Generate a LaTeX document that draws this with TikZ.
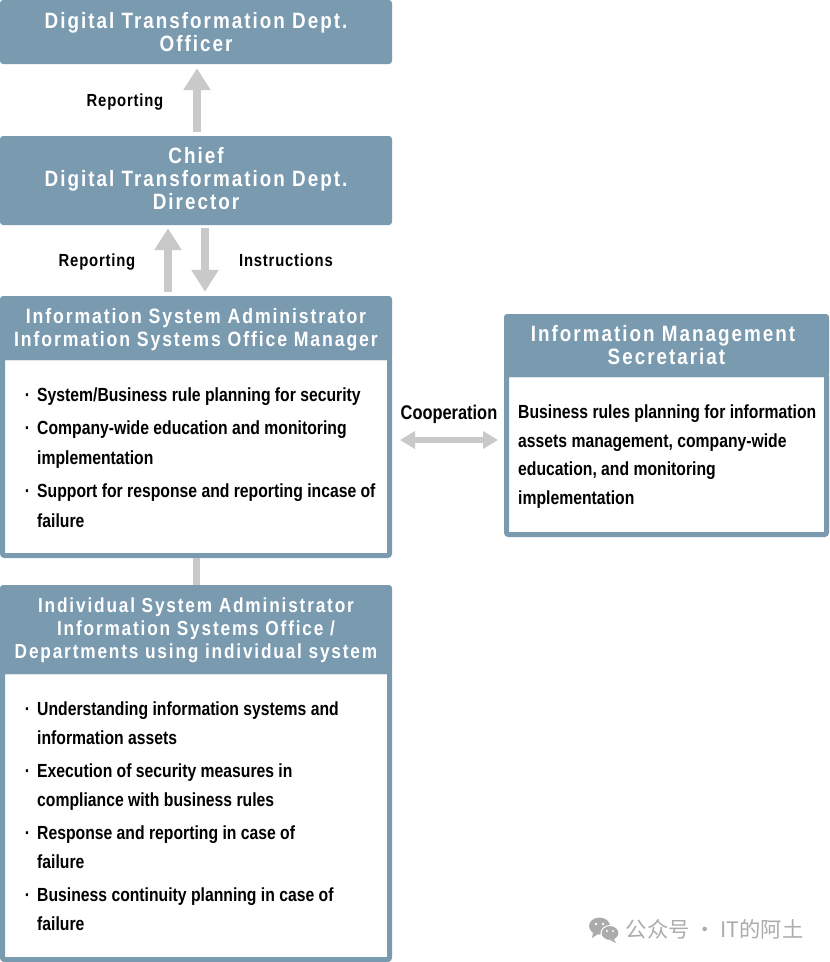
\documentclass[tikz,border=0pt]{standalone}
\usepackage{fontspec}
\setmainfont{Liberation Sans}
\newfontfamily\headfont[FakeStretch=0.85,LetterSpace=9]{Liberation Sans}
\newfontfamily\bodyfont[FakeStretch=0.828]{Liberation Sans}
\newfontfamily\captionfont[FakeStretch=0.85,LetterSpace=4.5]{Liberation Sans}
\newfontfamily\cjkfont{Noto Sans CJK SC}
\usetikzlibrary{calc,arrows.meta}
\definecolor{headblue}{HTML}{7A9AB0}
\definecolor{arrowgray}{HTML}{C9C9C9}
\definecolor{markgray}{HTML}{ABABAB}
\newcommand{\itemdot}{\llap{\textbf{·}\hspace{7pt}}}
\newcommand{\headdown}[1]{\rule{0pt}{#1}}
\newcommand{\headup}[1]{\rule[-#1]{0pt}{#1}}

\begin{document}
\begin{tikzpicture}[x=1pt,y=-1pt,
    headbox/.style={rectangle, fill=headblue, rounded corners=3pt, minimum width=392pt, inner sep=0pt, text=white, align=center, font=\headfont\bfseries\fontsize{#1}{23}\selectfont},
    sidehead/.style={headbox=#1, minimum width=325pt},
    bodybox/.style={rectangle, draw=headblue, fill=white, line width=5pt, rounded corners=2pt, inner sep=0pt},
    bodytext/.style={anchor=west, align=left, inner sep=0pt, font=\bodyfont\bfseries\fontsize{19}{#1}\selectfont},
    caption/.style={inner sep=0pt, font=\captionfont\bfseries\fontsize{17.5}{20}\selectfont},
    grayarrow/.style={draw=arrowgray, line width=8pt, -{Triangle[length=22pt,width=26pt]}},
    bothways/.style={draw=arrowgray, line width=6pt, {Triangle[length=15pt,width=17pt]}-{Triangle[length=15pt,width=17pt]}}]
    \useasboundingbox (0,0) rectangle (830,962);

    \node[headbox=22.2,minimum height=64pt] (officer) at (196,32) {Digital Transformation Dept.\\Officer};
    \node[headbox=22.2,minimum height=89pt] (chief) at (196,180.5) {Chief\\Digital Transformation Dept.\\Director\headup{4pt}};

    \node[bodybox,minimum width=387pt,minimum height=198pt] (adminbody) at (196,456.5) {};
    \node[headbox=20.8,minimum height=64pt] (admin) at (196,328) {\headdown{18pt}Information System Administrator\\Information Systems Office Manager};
    \node[bodytext=29.5] (admintext) at (37,457.3) {\itemdot System/Business rule planning for security\\[4pt]
        \itemdot Company-wide education and monitoring\\
        implementation\\[4pt]
        \itemdot Support for response and reporting incase of\\
        failure};

    \node[bodybox,minimum width=320pt,minimum height=160pt] (secbody) at (666.5,454.5) {};
    \node[sidehead=22.2,minimum height=63pt] (sec) at (666.5,345.5) {Information Management\kern7pt\\Secretariat};
    \node[bodytext=28.7] (sectext) at (518,456.5) {Business rules planning for information\\
        assets management, company-wide\\
        education, and monitoring\\
        implementation};

    \node[bodybox,minimum width=387pt,minimum height=288pt] (userbody) at (196,815.5) {};
    \node[headbox=20.3,minimum height=89pt] (user) at (196,629.5) {\headdown{16pt}Individual System Administrator\\Information Systems Office /\\Departments using individual system};
    \node[bodytext=29.5] (usertext) at (37,816) {\itemdot Understanding information systems and\\
        information assets\\[3pt]
        \itemdot Execution of security measures in\\
        compliance with business rules\\[3pt]
        \itemdot Response and reporting in case of\\
        failure\\[3pt]
        \itemdot Business continuity planning in case of\\
        failure};

    \draw[grayarrow,shorten <=4pt,shorten >=4pt] ([xshift=1pt]chief.north) -- ([xshift=1pt]officer.south);
    \draw[grayarrow,shorten <=4pt,shorten >=3pt] ([xshift=-28pt]admin.north) -- ([xshift=-28pt]chief.south);
    \draw[grayarrow,shorten <=3pt,shorten >=4pt] ([xshift=9pt]chief.south) -- ([xshift=9pt]admin.north);
    \draw[bothways,shorten <=8pt,shorten >=6pt] ([yshift=16.5pt]adminbody.east) -- ([yshift=14.5pt]secbody.west);
    \draw[draw=arrowgray,line width=7pt] ([xshift=0.5pt]adminbody.south) -- ([xshift=0.5pt]user.north);

    \node[caption] (topreport) at (125,102) {Reporting};
    \node[caption] (report) at (97,262) {Reporting};
    \node[caption] (instruct) at (286,260) {Instructions};
    \node[caption,font=\bodyfont\bfseries\fontsize{19.8}{22}\selectfont] (coop) at (449,414.5) {Cooperation};

    \fill[markgray] (599.5,926) ellipse (10.5pt and 8.5pt);
    \fill[markgray] (593,933) -- (592,938) -- (598,934) -- cycle;
    \fill[markgray,draw=white,line width=1pt] (610,933) ellipse (9pt and 7.5pt);
    \fill[markgray] (614,939) -- (616,943) -- (610,940) -- cycle;
    \foreach \px/\py/\pr in {596/924/1.3,603/924/1.3,607/931/1.1,613/931/1.1}
        \fill[white] (\px,\py) circle (\pr pt);
    \node[text=markgray,inner sep=0pt,anchor=west,font=\cjkfont\fontsize{21.3}{24}\selectfont] (mark) at (625.5,929) {公众号 · IT的阿土};
\end{tikzpicture}
\end{document}
